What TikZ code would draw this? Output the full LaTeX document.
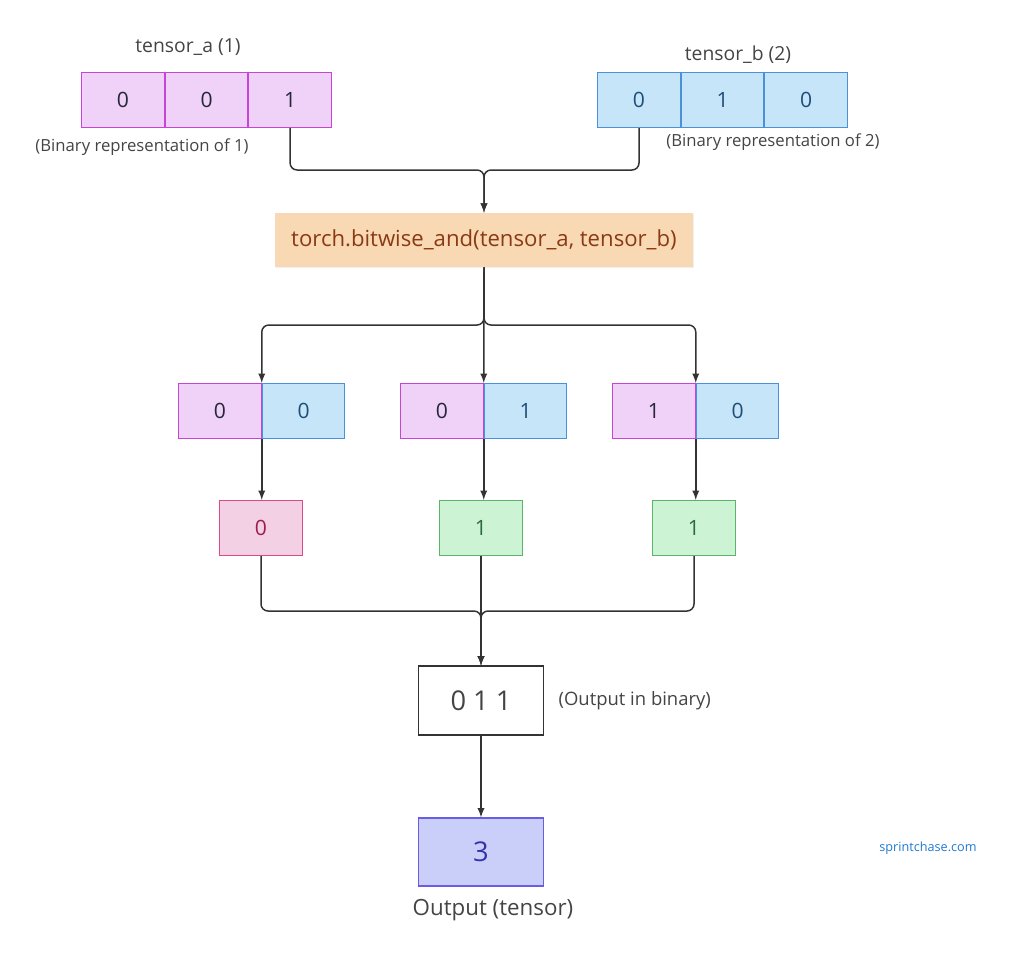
\documentclass[tikz,border=0pt]{standalone}
\usepackage{fontspec}
\setmainfont{Open Sans}
\usetikzlibrary{arrows}
\usetikzlibrary{positioning}
\usetikzlibrary{shadows}
\definecolor{afill}{HTML}{F0D2F8}
\definecolor{adraw}{HTML}{C645D6}
\definecolor{atext}{HTML}{26263A}
\definecolor{bfill}{HTML}{C6E5F8}
\definecolor{bdraw}{HTML}{4A92D8}
\definecolor{btext}{HTML}{1F4F78}
\definecolor{fnfill}{HTML}{F8D9B4}
\definecolor{fntext}{HTML}{8A3A14}
\definecolor{zfill}{HTML}{F4D0E5}
\definecolor{zdraw}{HTML}{D84A8A}
\definecolor{ztext}{HTML}{9A1F4F}
\definecolor{ofill}{HTML}{CCF3D4}
\definecolor{odraw}{HTML}{5BB46A}
\definecolor{otext}{HTML}{2E6B3A}
\definecolor{rfill}{HTML}{C9CFF9}
\definecolor{rdraw}{HTML}{6B5CE6}
\definecolor{rtext}{HTML}{3531A8}
\definecolor{labtext}{HTML}{444444}
\definecolor{wire}{HTML}{333333}
\definecolor{site}{HTML}{2079D0}
\tikzset{cell/.style = {draw, minimum width = 1.65cm, minimum height = 1.1cm, inner sep = 0, line width = 0.6pt, font = \fontsize{12}{14}\selectfont}}
\tikzset{acell/.style = {cell, fill = afill, draw = adraw, text = atext}}
\tikzset{bcell/.style = {cell, fill = bfill, draw = bdraw, text = btext}}
\tikzset{zcell/.style = {cell, fill = zfill, draw = zdraw, text = ztext}}
\tikzset{ocell/.style = {cell, fill = ofill, draw = odraw, text = otext}}
\tikzset{lab/.style = {text = labtext, inner sep = 1pt}}
\tikzset{wirepath/.style = {draw = wire, line width = 0.85pt, rounded corners = 4pt}}
\tikzset{arr/.style = {wirepath, -latex}}

\begin{document}
\begin{tikzpicture}[x = 0.02cm, y = -0.02cm]
      \useasboundingbox (0, 0) rectangle (1024, 958);

      % input tensors
      \node [acell] (a1) at (123, 100) {0};
      \node [acell, right = 0pt of a1] (a2) {0};
      \node [acell, right = 0pt of a2] (a3) {1};
      \node [bcell] (b1) at (639, 100) {0};
      \node [bcell, right = 0pt of b1] (b2) {1};
      \node [bcell, right = 0pt of b2] (b3) {0};

      \node [lab, font = \fontsize{11}{13}\selectfont] (alabel) at (188, 47) {tensor\_a (1)};
      \node [lab, font = \fontsize{11}{13}\selectfont] (blabel) at (738, 55) {tensor\_b (2)};
      \node [lab, font = \fontsize{9.5}{11}\selectfont] (anote) at (142, 147) {(Binary representation of 1)};
      \node [lab, font = \fontsize{9.5}{11}\selectfont] (bnote) at (773, 142) {(Binary representation of 2)};

      % function
      \node [fill = fnfill, text = fntext, minimum width = 8.36cm, minimum height = 1.08cm,
             drop shadow = {opacity = 0.12, shadow xshift = 0.4pt, shadow yshift = -0.6pt},
             font = \fontsize{12.6}{14}\selectfont] (fn) at (484, 240) {torch.bitwise\_and(tensor\_a, tensor\_b)};

      \coordinate (join) at (484, 170);
      \coordinate (split) at (484, 325);
      \draw [arr] (a3.south) |- (join) -- (fn.north);
      \draw [arr] (b1.south) |- (join) -- (fn.north);

      % bit pairs
      \node [acell] (p1a) at (220, 411) {0};
      \node [bcell, right = 0pt of p1a] (p1b) {0};
      \node [acell] (p2a) at (442, 411) {0};
      \node [bcell, right = 0pt of p2a] (p2b) {1};
      \node [acell] (p3a) at (654, 411) {1};
      \node [bcell, right = 0pt of p3a] (p3b) {0};

      \draw [arr] (fn.south) -- (split) -| (p1a.north east);
      \draw [arr] (fn.south) -- (split) -| (p3a.north east);
      \draw [arr] (fn.south) -- (p2a.north east);

      % and results
      \node [zcell] (r1) at (261, 528) {0};
      \node [ocell] (r2) at (481, 528) {1};
      \node [ocell] (r3) at (694, 528) {1};

      \draw [arr] (p1a.south east) -- (p1a.south east |- r1.north);
      \draw [arr] (p2a.south east) -- (p2a.south east |- r2.north);
      \draw [arr] (p3a.south east) -- (p3a.south east |- r3.north);

      % output
      \node [draw = wire, fill = white, text = labtext, line width = 0.6pt, minimum width = 2.5cm, minimum height = 1.38cm,
             font = \fontsize{15.5}{18}\selectfont] (out) at (481, 700.5) {0 1 1};
      \node [lab, font = \fontsize{10.5}{12}\selectfont, right = 0.25cm of out] (outnote) {(Output in binary)};

      \coordinate (merge) at (481, 611);
      \draw [arr] (r1.south) |- (merge) -- (out.north);
      \draw [arr] (r3.south) |- (merge) -- (out.north);
      \draw [arr] (r2.south) -- (out.north);

      \node [draw = rdraw, fill = rfill, text = rtext, line width = 0.6pt, minimum width = 2.5cm, minimum height = 1.36cm,
             font = \fontsize{15.5}{18}\selectfont] (res) at (481, 852) {3};
      \node [lab, font = \fontsize{12.7}{15}\selectfont] (reslabel) at (493, 910) {Output (tensor)};
      \draw [arr] (out.south) -- (res.north);

      \node [text = site, font = \fontsize{7.2}{9}\selectfont] (site) at (928, 848) {sprintchase.com};
    \end{tikzpicture}
\end{document}
